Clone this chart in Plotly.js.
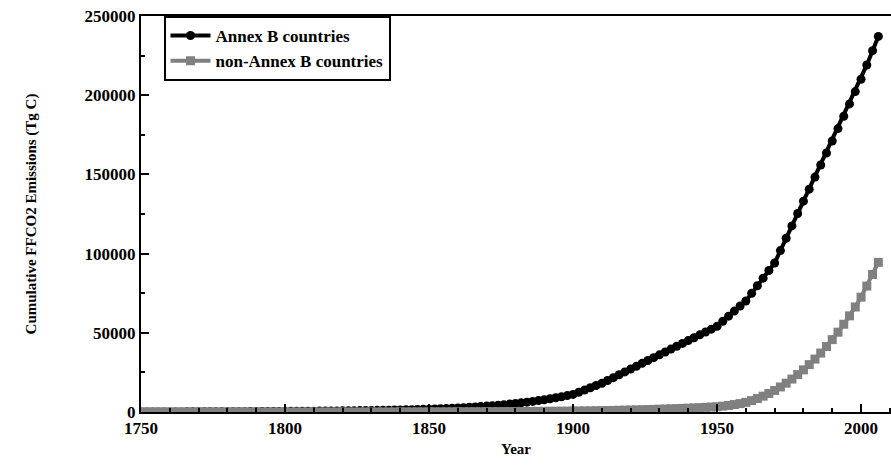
<!DOCTYPE html>
<html>
<head>
<meta charset="utf-8">
<script src="https://cdn.plot.ly/plotly-3.0.1.min.js"></script>
<style>html,body{margin:0;padding:0;background:#fff}</style>
</head>
<body>
<div id="chart" style="width:891px;height:471px"></div>
<script>
// years 1750..2006 every 2 years
var years = [];
for (var y = 1750; y <= 2006; y += 2) { years.push(y); }

// cumulative emissions (Tg C)
var annexB = [
  0,10,20,30,40,50,60,70,80,95,110,125,140,155,170,185,200,215,230,250,270,290,310,330,350,
  370,400,430,460,490,520,560,600,640,680,720,770,820,870,920,980,1040,1100,1170,1240,1320,1400,1480,1570,1660,
  1760,1900,2050,2210,2380,2560,2760,2970,3200,3450,3720,4010,4320,4650,5000,5380,5790,6230,6700,7210,7760,8350,8980,9650,10370,
  11100,12500,13900,15300,16700,18100,19900,21700,23500,25300,27100,28900,30700,32500,34300,36100,37900,39700,41500,43300,45100,46900,48700,50500,52300,
  54100,57300,60500,63700,66900,70100,74900,79700,84500,89300,94100,101900,109700,117500,125300,133100,140700,148300,155900,163500,171100,178900,186700,194500,202300,
  210100,219100,228100,237100
];
var nonAnnexB = [
  0,0,0,0,0,0,0,0,0,0,0,0,0,0,0,0,0,0,0,0,0,0,0,0,0,
  0,0,0,0,0,5,5,5,10,10,10,15,15,20,20,25,25,30,35,40,45,50,55,60,70,
  80,90,100,110,120,130,145,160,175,190,205,220,240,260,280,300,320,345,370,395,420,450,480,510,545,
  580,630,680,740,800,860,930,1000,1080,1160,1250,1340,1440,1540,1650,1760,1880,2000,2130,2270,2420,2580,2750,2930,3120,
  3320,3700,4150,4700,5300,6100,7200,8500,10000,11700,13600,15800,18200,20800,23600,26600,29900,33400,37200,41300,45700,50400,55400,60700,66300,
  72500,79500,86800,94500
];

var ff = 'Liberation Serif, Times New Roman, serif';

var data = [
  { x: years, y: annexB, name: 'Annex B countries', type: 'scatter', mode: 'lines+markers',
    line: { color: '#000', width: 4 }, marker: { color: '#000', symbol: 'circle', size: 9 } },
  { x: years, y: nonAnnexB, name: 'non-Annex B countries', type: 'scatter', mode: 'lines+markers',
    line: { color: '#808080', width: 4 }, marker: { color: '#808080', symbol: 'square', size: 9 } }
];

var layout = {
  width: 891, height: 471,
  margin: { l: 141, r: 0, t: 16, b: 59 },
  paper_bgcolor: '#fff', plot_bgcolor: '#fff',
  font: { family: ff, color: '#000' },
  showlegend: true,
  legend: { x: 0.03, y: 1, xanchor: 'left', yanchor: 'top', bgcolor: '#fff',
            bordercolor: '#000', borderwidth: 2, itemwidth: 40, tracegroupgap: 0,
            font: { family: ff, size: 17, weight: 'bold' } },
  xaxis: {
    range: [1750, 2010.4], tick0: 1750, dtick: 50, ticks: 'inside', ticklen: 8, tickwidth: 2,
    tickcolor: '#000', showline: true, linecolor: '#000', linewidth: 2, mirror: true,
    showgrid: false, zeroline: false,
    minor: { dtick: 10, ticks: 'inside', ticklen: 4, tickcolor: '#000', showgrid: false },
    tickfont: { family: ff, size: 17, weight: 'bold' },
    title: { text: 'Year', font: { family: ff, size: 15, weight: 'bold' }, standoff: 6 }
  },
  yaxis: {
    range: [0, 250000], dtick: 50000, ticks: 'inside', ticklen: 8, tickwidth: 2,
    tickcolor: '#000', showline: true, linecolor: '#000', linewidth: 2, mirror: false,
    showgrid: false, zeroline: false, tickformat: 'd',
    minor: { dtick: 25000, ticks: 'inside', ticklen: 4, tickcolor: '#000', showgrid: false },
    tickfont: { family: ff, size: 17, weight: 'bold' },
    title: { text: 'Cumulative FFCO2 Emissions (Tg C)', font: { family: ff, size: 15, weight: 'bold' }, standoff: 44 }
  }
};

Plotly.newPlot('chart', data, layout, { displayModeBar: false, staticPlot: true });
</script>
</body>
</html>
